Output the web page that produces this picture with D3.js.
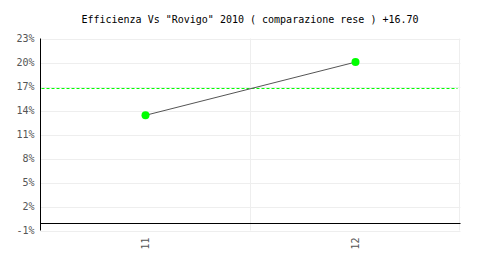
<html>
<head>
	<style>
		body { margin:0; background:#fff; }
		svg { position:absolute; top:0px; left:0px; }
		text { font-family: "DejaVu Sans Mono", monospace; font-size: 10px; }
		.grid line { stroke: #eee; stroke-width: 1px; }
		.tick text { fill: #555; }
		.trace { fill: none; stroke: #555; stroke-width: 1px; }
		.bob { fill: #0F0; }
	</style>
	<script src="https://cdnjs.cloudflare.com/ajax/libs/d3/7.8.5/d3.min.js"></script>
</head>
<body>
	<svg width="500" height="280"></svg>
</body>
<script>
var categories = ["11", "12"];
var values = [13.4, 20.05];
var reference = 16.70;
var yTicks = [-1, 2, 5, 8, 11, 14, 17, 20, 23];
var title = 'Efficienza Vs "Rovigo" 2010 ( comparazione rese ) +16.70';

var svg = d3.select("svg"),
	mLeft = 40.5, mRight = 460.5, mTop = 38.5, mBottom = 230.5;

var x = d3.scaleBand().domain(categories).range([mLeft, mRight]);
var y = d3.scaleLinear().domain([-1, 23]).range([mBottom, mTop]);

svg.append("text").attr("x", 250).attr("y", 23).attr("text-anchor", "middle")
	.attr("fill", "#000").text(title);

// grid
var grid = svg.append("g").attr("class", "grid");
grid.selectAll(".h").data(yTicks).enter().append("line")
	.attr("x1", mLeft).attr("x2", mRight)
	.attr("y1", function(d) { return Math.round(y(d)) + 0.5; })
	.attr("y2", function(d) { return Math.round(y(d)) + 0.5; });
grid.selectAll(".v").data(categories.slice(1).concat(["end"])).enter().append("line")
	.attr("x1", function(d) { return d == "end" ? mRight - 1 : x(d); })
	.attr("x2", function(d) { return d == "end" ? mRight - 1 : x(d); })
	.attr("y1", mTop).attr("y2", mBottom);

// y axis
var yAxis = svg.append("g").attr("transform", "translate(" + mLeft + ",0)")
	.call(d3.axisLeft(y).tickValues(yTicks).tickSize(0).tickPadding(6).tickFormat(function(d) { return d + "%"; }));
yAxis.select(".domain").attr("stroke", "#000").attr("d", "M0," + mTop + "V" + mBottom);

// zero line
svg.append("line").attr("x1", mLeft).attr("x2", mRight)
	.attr("y1", Math.round(y(0)) + 0.5).attr("y2", Math.round(y(0)) + 0.5)
	.attr("stroke", "#000");

// x axis labels
var xAxis = svg.append("g").attr("transform", "translate(0," + mBottom + ")")
	.call(d3.axisBottom(x).tickSize(0));
xAxis.select(".domain").remove();
xAxis.selectAll(".tick text")
	.attr("transform", "rotate(-90)")
	.attr("text-anchor", "end")
	.attr("x", -7).attr("y", 0).attr("dy", "0.35em");

// reference line
svg.append("line")
	.attr("stroke", "#00ff00").attr("stroke-width", 1).attr("stroke-dasharray", "3,2")
	.attr("x1", mLeft + 1).attr("x2", mRight - 3)
	.attr("y1", Math.floor(y(reference)) + 0.5).attr("y2", Math.floor(y(reference)) + 0.5);

var cx = function(d, i) { return x(categories[i]) + x.bandwidth() / 2; };

svg.append("path").datum(values).attr("class", "trace")
	.attr("d", d3.line().x(cx).y(function(d) { return y(d); }));

svg.selectAll(".bob").data(values).enter().append("circle").attr("class", "bob")
	.attr("cx", cx).attr("cy", function(d) { return y(d); }).attr("r", 4);
</script>
</html>
